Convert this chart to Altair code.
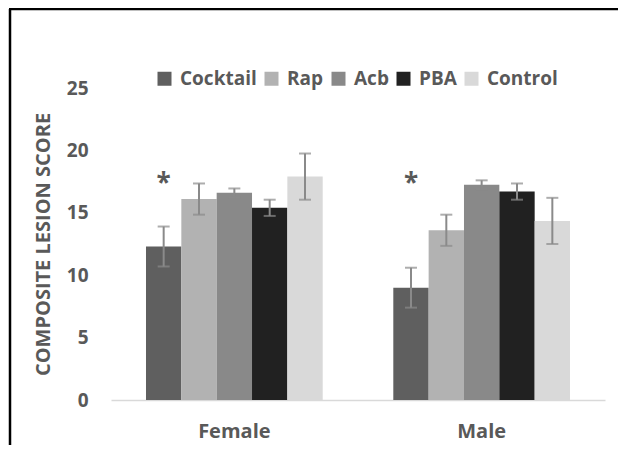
import altair as alt
import pandas as pd

groups = ["Female", "Male"]
treatments = ["Cocktail", "Rap", "Acb", "PBA", "Control"]
female_mean = [12.3, 16.1, 16.6, 15.4, 17.9]
female_err = [1.6, 1.25, 0.35, 0.65, 1.85]
male_mean = [9.0, 13.6, 17.25, 16.7, 14.35]
male_err = [1.6, 1.25, 0.35, 0.65, 1.85]
colors = ["#5f5f5f", "#b2b2b2", "#898989", "#212121", "#d9d9d9"]
star_group = ["Female", "Male"]
star_treatment = ["Cocktail", "Cocktail"]
star_y = [17.6, 17.6]
y_ticks = [0, 5, 10, 15, 20, 25]

rows = []
for g, means, errs in [("Female", female_mean, female_err), ("Male", male_mean, male_err)]:
    for t, m, e in zip(treatments, means, errs):
        rows.append({"group": g, "treatment": t, "mean": m, "lo": m - e, "hi": m + e})
df = pd.DataFrame(rows)
stars = pd.DataFrame({"group": star_group, "treatment": star_treatment, "y": star_y, "label": ["*", "*"]})

W, H = 494, 312
PL, PT, PR, PB = 103, 80, 13, 45
FONT = "Open Sans"
TXT = "#595959"

x = alt.X("group:N", sort=groups,
          scale=alt.Scale(domain=groups, paddingInner=0.2855, paddingOuter=0.1415),
          axis=alt.Axis(title=None, labelAngle=0, ticks=False, domainColor="#d9d9d9",
                        domainWidth=1.5, labelFont=FONT, labelFontSize=20, labelFontWeight="bold",
                        labelColor=TXT, labelPadding=21))
xo = alt.XOffset("treatment:N", sort=treatments,
                 scale=alt.Scale(domain=treatments, paddingInner=0, paddingOuter=0))
yscale = alt.Scale(domain=[0, 25], nice=False)

bars = alt.Chart(df).mark_bar().encode(
    x=x, xOffset=xo,
    y=alt.Y("mean:Q", scale=yscale,
            axis=alt.Axis(title="COMPOSITE LESION SCORE", values=y_ticks, grid=False, domain=False,
                          ticks=False, labelFont=FONT, labelFontSize=19, labelFontWeight="bold",
                          labelColor=TXT, labelPadding=23, titleFont=FONT, titleFontSize=20,
                          titleFontWeight="bold", titleColor=TXT, titleX=-68, titleY=H / 2,
                          titleAngle=-90, titleAlign="center", titleBaseline="middle")),
    color=alt.Color("treatment:N", sort=treatments,
                    scale=alt.Scale(domain=treatments, range=colors),
                    legend=alt.Legend(title=None, orient="none", direction="horizontal",
                                      legendX=44, legendY=-19, symbolType="square",
                                      symbolSize=196, symbolStrokeWidth=0, labelFont=FONT,
                                      labelFontSize=19, labelFontWeight="bold", labelColor=TXT,
                                      labelOffset=6, columnPadding=5)),
)

err = alt.Chart(df).mark_rule(color="#8a8a8a", strokeWidth=2).encode(
    x=x, xOffset=xo, y=alt.Y("lo:Q", scale=yscale), y2="hi:Q")
cap_lo = alt.Chart(df).mark_tick(color="#8a8a8a", thickness=2, size=12, orient="horizontal").encode(
    x=x, xOffset=xo, y=alt.Y("lo:Q", scale=yscale))
cap_hi = alt.Chart(df).mark_tick(color="#8a8a8a", thickness=2, size=12, orient="horizontal").encode(
    x=x, xOffset=xo, y=alt.Y("hi:Q", scale=yscale))

star = alt.Chart(stars).mark_text(font=FONT, fontSize=26, fontWeight="bold", color=TXT,
                                  baseline="middle", dy=4).encode(
    x=x, xOffset=xo, y=alt.Y("y:Q", scale=yscale), text="label:N")

frame_top = alt.Chart(alt.Data(values=[{}])).mark_rule(color="black", strokeWidth=2.5).encode(
    x=alt.value(-PL + 1), x2=alt.value(W + PR), y=alt.value(-PT + 1))
frame_left = alt.Chart(alt.Data(values=[{}])).mark_rule(color="black", strokeWidth=2.5).encode(
    x=alt.value(-PL + 2), y=alt.value(-PT + 1), y2=alt.value(H + PB))

chart = alt.layer(bars, err, cap_lo, cap_hi, star, frame_top, frame_left).properties(
    width=W, height=H,
    autosize=alt.AutoSizeParams(type="none"),
    padding={"left": PL, "top": PT, "right": PR, "bottom": PB},
).configure_view(stroke=None)

chart.save("out.html", embed_options={"renderer": "svg", "actions": False})
